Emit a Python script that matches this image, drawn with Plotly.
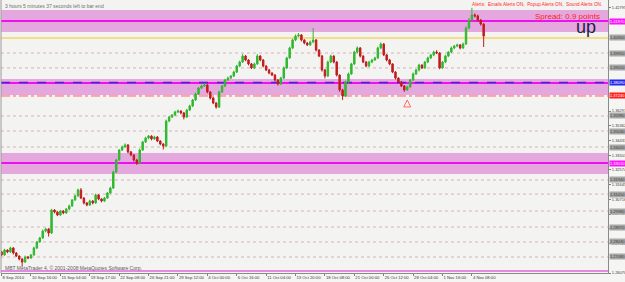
import plotly.graph_objects as go

# ---------------- data (EURUSD H4) ----------------
closes = [
    1.2721, 1.2752, 1.2740, 1.2765, 1.2733, 1.2714, 1.2695, 1.2676, 1.2708, 1.2702,
    1.2721, 1.2765, 1.2803, 1.2828, 1.2872, 1.2885, 1.2859, 1.3004, 1.2992, 1.2973,
    1.2998, 1.2986, 1.3011, 1.3030, 1.3068, 1.3093, 1.3131, 1.3080, 1.3049, 1.3036,
    1.3061, 1.3049, 1.3099, 1.3074, 1.3061, 1.3080, 1.3112, 1.3143, 1.3244, 1.3320,
    1.3383, 1.3402, 1.3415, 1.3371, 1.3352, 1.3320, 1.3301, 1.3383, 1.3434, 1.3459,
    1.3471, 1.3453, 1.3465, 1.3440, 1.3421, 1.3408, 1.3566, 1.3591, 1.3604, 1.3623,
    1.3629, 1.3617, 1.3591, 1.3635, 1.3661, 1.3699, 1.3736, 1.3774, 1.3787, 1.3793,
    1.3749, 1.3711, 1.3680, 1.3654, 1.3749, 1.3787, 1.3825, 1.3837, 1.3850, 1.3875,
    1.3913, 1.3938, 1.3976, 1.3951, 1.3926, 1.3901, 1.3926, 1.3976, 1.3951, 1.3913,
    1.3888, 1.3869, 1.3856, 1.3825, 1.3800, 1.3837, 1.3901, 1.3964, 1.4027, 1.4077,
    1.4102, 1.4109, 1.4077, 1.4058, 1.4046, 1.4065, 1.4077, 1.4014, 1.3976, 1.3888,
    1.3850, 1.3938, 1.3976, 1.3938, 1.3856, 1.3762, 1.3724, 1.3812, 1.3863, 1.3926,
    1.4001, 1.4027, 1.3976, 1.3938, 1.3913, 1.3938, 1.3951, 1.3964, 1.4027, 1.4052,
    1.3983, 1.3951, 1.3926, 1.3875, 1.3837, 1.3812, 1.3787, 1.3762, 1.3781, 1.3825,
    1.3863, 1.3888, 1.3919, 1.3901, 1.3938, 1.3964, 1.3983, 1.4001, 1.3995, 1.3901,
    1.3938, 1.3976, 1.4001, 1.4027, 1.4039, 1.4046, 1.4027, 1.4052, 1.4153, 1.4203,
    1.4235, 1.4229, 1.4203, 1.4178, 1.4102,
]
first_open = 1.2740
# wick lengths in pips (0.0001)
up_wick = [
    6, 8, 4, 7, 5, 6, 4, 5, 9, 6,
    5, 8, 6, 7, 9, 6, 5, 8, 6, 4,
    7, 5, 6, 8, 5, 7, 9, 12, 5, 6,
    8, 6, 9, 5, 4, 7, 6, 8, 9, 7,
    6, 8, 10, 5, 6, 4, 7, 9, 6, 8,
    7, 5, 8, 6, 4, 5, 9, 7, 6, 8,
    9, 5, 6, 7, 8, 6, 9, 7, 8, 10,
    6, 5, 7, 4, 8, 6, 7, 9, 6, 8,
    7, 9, 12, 6, 5, 7, 8, 12, 5, 6,
    5, 7, 4, 6, 5, 8, 9, 7, 8, 9,
    10, 12, 6, 5, 7, 8, 76, 6, 5, 7,
    6, 9, 8, 5, 6, 4, 7, 8, 9, 7,
    8, 10, 6, 5, 7, 8, 6, 7, 9, 10,
    6, 5, 7, 4, 6, 5, 7, 6, 8, 7,
    9, 6, 8, 5, 7, 8, 6, 9, 12, 5,
    7, 8, 6, 9, 7, 8, 6, 9, 10, 12,
    45, 10, 8, 6, 5,
]
down_wick = [
    7, 5, 8, 6, 9, 6, 8, 30, 5, 7,
    6, 5, 7, 4, 6, 8, 22, 6, 9, 7,
    5, 8, 6, 7, 5, 6, 4, 7, 9, 8,
    6, 9, 5, 7, 8, 6, 5, 4, 6, 5,
    6, 7, 5, 9, 8, 10, 12, 6, 5, 7,
    8, 9, 6, 7, 8, 22, 6, 7, 5, 6,
    7, 9, 15, 6, 5, 7, 6, 5, 7, 6,
    8, 9, 7, 10, 6, 5, 7, 6, 5, 7,
    6, 7, 5, 8, 9, 7, 6, 5, 8, 9,
    7, 8, 6, 9, 10, 6, 5, 7, 6, 8,
    7, 6, 9, 8, 7, 6, 8, 9, 7, 10,
    15, 6, 7, 8, 9, 12, 25, 6, 7, 5,
    6, 8, 9, 7, 8, 6, 7, 5, 6, 8,
    7, 9, 8, 7, 9, 8, 7, 12, 6, 5,
    6, 7, 9, 6, 5, 7, 6, 8, 7, 8,
    6, 7, 5, 6, 8, 7, 9, 6, 5, 7,
    6, 9, 8, 10, 69,
]
date_labels = [
    "8 Sep 2010", "10 Sep 16:00", "15 Sep 04:00", "19 Sep 17:00", "22 Sep 08:00",
    "26 Sep 21:00", "29 Sep 12:00", "4 Oct 00:00", "6 Oct 16:00", "11 Oct 04:00",
    "13 Oct 20:00", "18 Oct 08:00", "21 Oct 00:00", "25 Oct 12:00", "28 Oct 04:00",
    "1 Nov 16:00", "4 Nov 08:00",
]
bars_per_label = 10

zone_tops = [1.4267, 1.3831, 1.3364]
zone_bottoms = [1.4128, 1.3730, 1.3232]
zone_mids = [1.4197, 1.3806, 1.3301]
yellow_level = 1.4090
blue_level = 1.3809
red_level = 1.3724
bottom_level = 1.2620
dotted_levels = [1.3995, 1.3901, 1.3598, 1.3503, 1.3402, 1.3194,
                 1.3105, 1.2998, 1.2897, 1.2803, 1.2708]
axis_ticks = [1.42795, 1.36291, 1.35362, 1.34433, 1.33503, 1.32574,
              1.31645, 1.30716, 1.29787, 1.28858, 1.27928, 1.26070]
signal_bar = [138]
signal_price = [1.3699]
y_min, y_max = 1.26070, 1.43296

# ---------------- build ----------------
n = len(closes)
idx = list(range(n))
opens = [first_open] + closes[:-1]
highs = [max(o, c) + u * 0.0001 for o, c, u in zip(opens, closes, up_wick)]
lows = [min(o, c) - d * 0.0001 for o, c, d in zip(opens, closes, down_wick)]

FONT = "Liberation Sans, Arial, sans-serif"
fig = go.Figure()
fig.add_trace(go.Candlestick(
    x=idx, open=opens, high=highs, low=lows, close=closes,
    increasing=dict(line=dict(color="#2fb82f", width=1), fillcolor="#2fb82f"),
    decreasing=dict(line=dict(color="#c01c1c", width=1), fillcolor="#c01c1c"),
    whiskerwidth=0, showlegend=False, hoverinfo="skip",
))
fig.add_trace(go.Scatter(
    x=signal_bar, y=signal_price, mode="markers",
    marker=dict(symbol="arrow-up-open", size=7, color="#ff6a6a", line=dict(width=1, color="#ff6a6a")),
    showlegend=False, hoverinfo="skip",
))

shapes = []
for t, b in zip(zone_tops, zone_bottoms):
    shapes.append(dict(type="rect", xref="paper", x0=0, x1=1, yref="y", y0=b, y1=t,
                       fillcolor="#e4a8de", line=dict(width=0), layer="below"))
for lv in dotted_levels:
    shapes.append(dict(type="line", xref="paper", x0=0, x1=1, yref="y", y0=lv, y1=lv,
                       line=dict(color="#d6b2b2", width=1, dash="dot"), layer="below"))
shapes.append(dict(type="line", xref="paper", x0=0, x1=1, yref="y", y0=yellow_level, y1=yellow_level,
                   line=dict(color="#f6dc8a", width=2), layer="below"))
for m in zone_mids:
    shapes.append(dict(type="line", xref="paper", x0=0, x1=1, yref="y", y0=m, y1=m,
                       line=dict(color="#ee10ee", width=2), layer="below"))
shapes.append(dict(type="line", xref="paper", x0=0, x1=1, yref="y", y0=blue_level, y1=blue_level,
                   line=dict(color="#3a2ad8", width=1.5, dash="dash"), layer="below"))
shapes.append(dict(type="line", xref="paper", x0=0, x1=1, yref="y", y0=red_level, y1=red_level,
                   line=dict(color="#ff6060", width=1, dash="dashdot"), layer="below"))
shapes.append(dict(type="line", xref="paper", x0=0, x1=1, yref="y", y0=bottom_level, y1=bottom_level,
                   line=dict(color="#e58ae0", width=2), layer="below"))
shapes.append(dict(type="line", xref="paper", x0=0, x1=0, yref="paper", y0=0, y1=1,
                   line=dict(color="#9a9a9a", width=1)))

annotations = []
def tag(level, bg, fg):
    annotations.append(dict(x=1, xref="paper", y=level, yref="y", xanchor="left", yanchor="middle",
                            xshift=1, text=f"{level:.5f}", showarrow=False, bgcolor=bg,
                            borderpad=0, font=dict(size=4, color=fg, family=FONT)))
tag(yellow_level, "#a8a8a8", "#3a3a3a")
for lv in dotted_levels:
    tag(lv, "#a8a8a8", "#3a3a3a")
tag(zone_mids[0], "#ff10ff", "#ffffff")
tag(zone_mids[2], "#ff10ff", "#ffffff")
tag(blue_level, "#2828f0", "#ffffff")
tag(red_level, "#ff2020", "#ffffff")

annotations += [
    dict(x=0, xref="paper", y=1, yref="paper", xanchor="left", yanchor="top", xshift=2, yshift=-1,
         text="3 hours 5 minutes 37 seconds left to bar end", showarrow=False,
         font=dict(size=5, color="#707070", family=FONT)),
    dict(x=0.9934, xref="paper", y=0.982, yref="paper", xanchor="right", yanchor="middle",
         text="Alerts:  Emails Alerts ON,  Popup Alerts ON,  Sound Alerts ON.", showarrow=False,
         font=dict(size=4.7, color="#ff2a2a", family=FONT)),
    dict(x=0.9904, xref="paper", y=0.938, yref="paper", xanchor="right", yanchor="middle",
         text="Spread: 0.9 points", showarrow=False,
         font=dict(size=8, color="#ff2020", family=FONT)),
    dict(x=0.984, xref="paper", y=0.90, yref="paper", xanchor="right", yanchor="middle",
         text="up", showarrow=False, font=dict(size=18, color="#1c2147", family=FONT)),
    dict(x=0, xref="paper", y=0.017, yref="paper", xanchor="left", yanchor="middle", xshift=2,
         text="MBT MetaTrader 4, © 2001-2008 MetaQuotes Software Corp.", showarrow=False,
         font=dict(size=5, color="#606060", family=FONT)),
]

fig.update_layout(
    width=625, height=282,
    margin=dict(l=1, r=17, t=0, b=9, pad=0, autoexpand=False),
    paper_bgcolor="#f5f5f3", plot_bgcolor="#f3f3f1",
    shapes=shapes, annotations=annotations,
    font=dict(family=FONT, size=5, color="#404040"),
    xaxis=dict(range=[-0.2, 206.3], rangeslider=dict(visible=False), showgrid=False, zeroline=False,
               tickvals=[k * bars_per_label for k in range(len(date_labels))], ticktext=date_labels,
               ticklabelposition="outside right", ticks="outside", ticklen=2, tickcolor="#808080",
               tickangle=0, automargin=False,
               showline=True, linecolor="#8a8a8a", linewidth=1,
               tickfont=dict(size=4.2, color="#404040", family=FONT)),
    yaxis=dict(range=[y_min, y_max], side="right", showgrid=False, zeroline=False,
               tickvals=axis_ticks, ticktext=[f"{v:.5f}" for v in axis_ticks],
               ticks="outside", ticklen=2, tickcolor="#808080", automargin=False,
               showline=True, linecolor="#8a8a8a", linewidth=1,
               tickfont=dict(size=4, color="#404040", family=FONT)),
)
fig.write_html("out.html")
